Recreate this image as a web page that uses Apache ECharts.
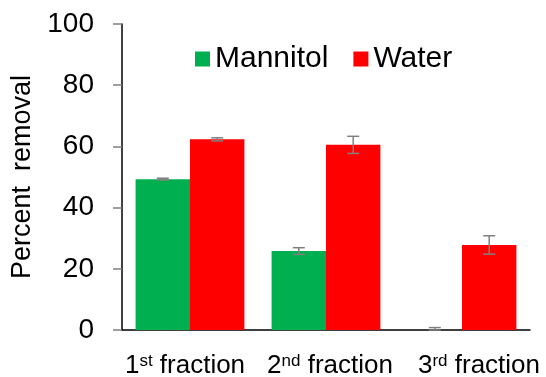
<!DOCTYPE html>
<html>
<head>
<meta charset="utf-8">
<script src="https://cdn.jsdelivr.net/npm/echarts@6/dist/echarts.min.js"></script>
<style>
  html, body { margin: 0; padding: 0; background: #fff; }
  #chart { width: 546px; height: 377px; }
</style>
</head>
<body>
<div id="chart"></div>
<script>
// data
var categories = ['1st', '2nd', '3rd']
var mannitol = [49.3, 25.8, 0]
var mannitolErr = [0.3, 1.1, 0.8]
var water = [62.3, 60.5, 27.8]
var waterErr = [0.5, 2.8, 3.0]

var chart = echarts.init(document.getElementById('chart'))

// error bars, drawn with a custom series offset onto each bar of the group
function errorSeries(name, values, errs, side) {
  return {
    name: name + ' err',
    type: 'custom',
    z: 10,
    data: values.map(function(v, i) { return [i, v, errs[i]] }),
    renderItem: function(params, api) {
      var band = api.size([1, 0])[0]
      var x = api.coord([api.value(0), 0])[0] + side * band * 0.2
      var v = api.value(1)
      var e = api.value(2)
      var top = api.coord([api.value(0), v + e])[1]
      var bot = api.coord([api.value(0), Math.max(0, v - e)])[1]
      var style = { stroke: '#808080', lineWidth: 1.5 }
      return {
        type: 'group',
        children: [
          { type: 'line', shape: { x1: x, y1: top, x2: x, y2: bot }, style: style },
          { type: 'line', shape: { x1: x - 6, y1: top, x2: x + 6, y2: top }, style: style },
          { type: 'line', shape: { x1: x - 6, y1: bot, x2: x + 6, y2: bot }, style: style }
        ]
      }
    }
  }
}

// the labels in the original are not quite centred under the bars
var labelStyle = { fontSize: 26, color: '#000', verticalAlign: 'bottom' }
var rich = {
  s: { fontSize: 17, color: '#000', verticalAlign: 'top', padding: [0, 0, 8, 0] },
  n: labelStyle,
  n0: Object.assign({}, labelStyle, { padding: [0, 0, 0, 0] }),
  n1: Object.assign({}, labelStyle, { padding: [0, 0, 0, 8] }),
  n2: Object.assign({}, labelStyle, { padding: [0, 0, 0, 34] }),
  e0: Object.assign({}, labelStyle, { padding: [0, 10, 0, 0] })
}

chart.setOption({
  animation: false,
  textStyle: { fontFamily: 'Liberation Sans, Arial, sans-serif' },
  grid: { left: 122, right: 16, top: 24, bottom: 47, outerBoundsMode: 'none' },
  legend: {
    data: ['Mannitol', 'Water'],
    icon: 'rect',
    left: 190,
    top: 39,
    itemWidth: 15,
    itemHeight: 15,
    itemGap: 25,
    textStyle: { fontSize: 30, color: '#000' }
  },
  xAxis: {
    type: 'category',
    data: categories,
    axisLine: { lineStyle: { color: '#000', width: 1.5 } },
    axisTick: { show: false },
    axisLabel: {
      interval: 0,
      margin: 23,
      formatter: function(v, i) {
        var end = i === 0 ? 'e0' : 'n'
        return '{n' + i + '|' + v.charAt(0) + '}{s|' + v.slice(1) + '}{' + end + '| fraction}'
      },
      rich: rich
    }
  },
  yAxis: {
    type: 'value',
    min: 0,
    max: 100,
    interval: 20,
    name: 'Percent  removal',
    nameLocation: 'middle',
    nameGap: 85,
    nameTextStyle: { fontSize: 27, color: '#000' },
    splitLine: { show: false },
    axisLine: { show: true, lineStyle: { color: '#000', width: 1.5 } },
    axisTick: { show: true, length: 9, lineStyle: { color: '#808080', width: 1.5 } },
    axisLabel: { fontSize: 28, color: '#000', margin: 28 }
  },
  series: [
    {
      name: 'Mannitol',
      type: 'bar',
      data: mannitol,
      barGap: '0%',
      barCategoryGap: '20%',
      itemStyle: { color: '#00B050' }
    },
    {
      name: 'Water',
      type: 'bar',
      data: water,
      barGap: '0%',
      barCategoryGap: '20%',
      itemStyle: { color: '#FF0000' }
    },
    errorSeries('Mannitol', mannitol, mannitolErr, -1),
    errorSeries('Water', water, waterErr, 1)
  ]
})
</script>
</body>
</html>
